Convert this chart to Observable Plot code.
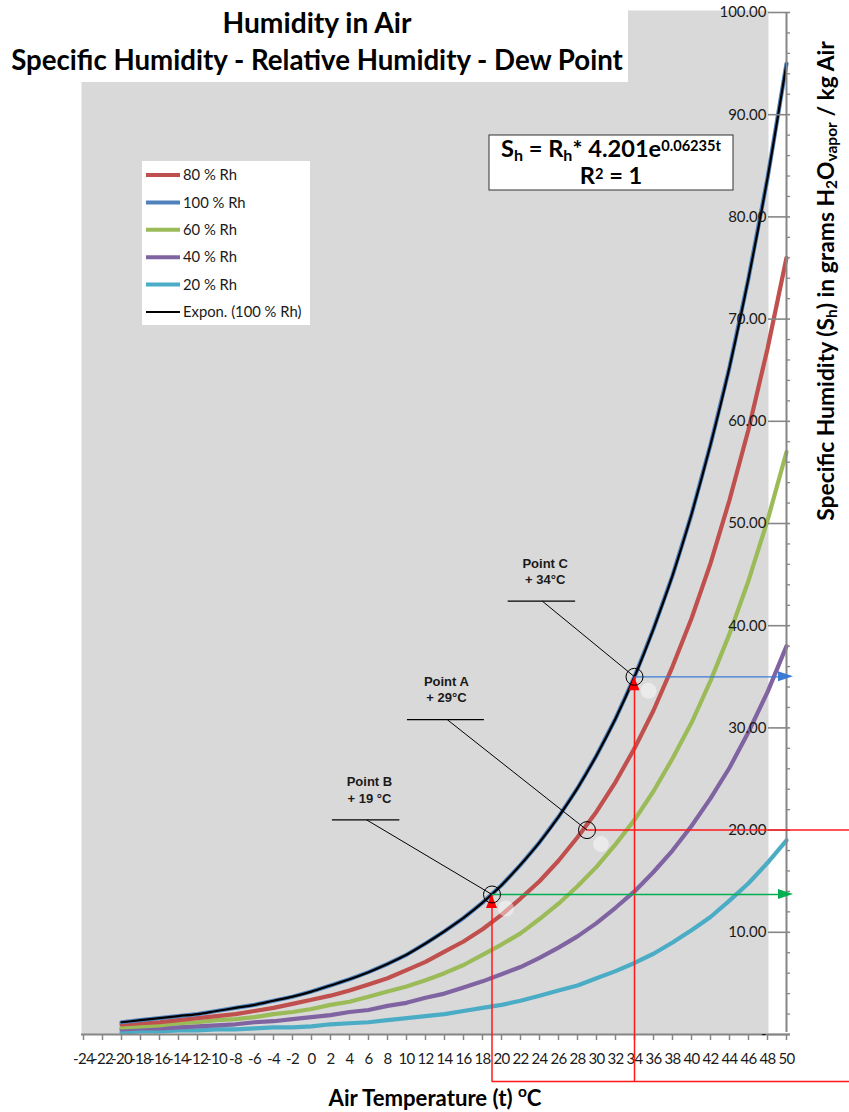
<!DOCTYPE html>
<html>
<head>
<meta charset="utf-8">
<script src="https://cdn.jsdelivr.net/npm/d3@7"></script>
<script src="https://cdn.jsdelivr.net/npm/@observablehq/plot@0.6"></script>
<style>
  html, body { margin: 0; padding: 0; background: #fff; }
  #chart { position: relative; width: 849px; height: 1112px; overflow: hidden; }
  #chart > svg { display: block; }
  #overlay { position: absolute; left: 0; top: 0; pointer-events: none; }
  #chart g[aria-label="x-axis tick label"] text { letter-spacing: -0.6px; }
</style>
</head>
<body>
<div id="chart"></div>
<script>
// Air temperature (°C) for every sample on the curves
const temps = [-20,-18,-16,-14,-12,-10,-8,-6,-4,-2,0,2,4,6,8,10,12,14,16,18,20,22,24,26,28,30,32,34,36,38,40,42,44,46,48,50];

// Specific humidity (g H2O / kg air) at each temperature, per relative humidity
const rh100 = [1.2,1.4,1.6,1.8,2.0,2.3,2.6,2.9,3.3,3.7,4.2,4.8,5.4,6.1,6.9,7.8,8.9,10.1,11.4,12.9,14.6,16.6,18.8,21.3,24.1,27.3,30.9,35.0,39.7,44.9,50.9,57.7,65.3,74.0,83.8,95.0];
const rh80  = [1.0,1.1,1.2,1.4,1.6,1.8,2.0,2.3,2.6,3.0,3.4,3.8,4.3,4.9,5.5,6.3,7.1,8.1,9.1,10.3,11.7,13.3,15.0,17.0,19.3,21.8,24.7,28.0,31.7,36.0,40.7,46.1,52.3,59.2,67.1,76.0];
const rh60  = [0.7,0.8,0.9,1.1,1.2,1.4,1.5,1.7,2.0,2.2,2.5,2.9,3.2,3.7,4.2,4.7,5.3,6.0,6.8,7.8,8.8,9.9,11.3,12.8,14.5,16.4,18.6,21.0,23.8,27.0,30.5,34.6,39.2,44.4,50.3,57.0];
const rh40  = [0.5,0.6,0.6,0.7,0.8,0.9,1.0,1.2,1.3,1.5,1.7,1.9,2.2,2.4,2.8,3.1,3.6,4.0,4.6,5.2,5.9,6.6,7.5,8.5,9.6,10.9,12.4,14.0,15.9,18.0,20.4,23.1,26.1,29.6,33.5,38.0];
const rh20  = [0.2,0.3,0.3,0.4,0.4,0.5,0.5,0.6,0.7,0.7,0.8,1.0,1.1,1.2,1.4,1.6,1.8,2.0,2.3,2.6,2.9,3.3,3.8,4.3,4.8,5.5,6.2,7.0,7.9,9.0,10.2,11.5,13.1,14.8,16.8,19.0];

// Series names in legend order, and the exponential trendline name
const seriesNames = ["80 % Rh", "100 % Rh", "60 % Rh", "40 % Rh", "20 % Rh"];
const trendName = "Expon. (100 % Rh)";

// Axis ticks
const xTicks = [-24,-22,-20,-18,-16,-14,-12,-10,-8,-6,-4,-2,0,2,4,6,8,10,12,14,16,18,20,22,24,26,28,30,32,34,36,38,40,42,44,46,48,50];
const yMajorTicks = [0,10,20,30,40,50,60,70,80,90,100];
const yMinorTicks = [2,4,6,8,12,14,16,18,22,24,26,28,32,34,36,38,42,44,46,48,52,54,56,58,62,64,66,68,72,74,76,78,82,84,86,88,92,94,96,98];

// Marked states on the chart
const pointNames = ["Point A", "Point B", "Point C"];
const pointCaptions = ["+ 29°C", "+ 19 °C", "+ 34°C"];
const pointTemps = [29, 19, 34];
const pointHumidity = [20.0, 13.7, 35.0];

// Texts
const titleLines = ["Humidity in Air", "Specific Humidity - Relative Humidity - Dew Point"];

// ---- styling / layout ----
const colors = {
  "80 % Rh": "#C0504D",
  "100 % Rh": "#4F81BD",
  "60 % Rh": "#9BBB59",
  "40 % Rh": "#8064A2",
  "20 % Rh": "#4BACC6"
};
const seriesValues = {"80 % Rh": rh80, "100 % Rh": rh100, "60 % Rh": rh60, "40 % Rh": rh40, "20 % Rh": rh20};
const drawOrder = ["20 % Rh", "40 % Rh", "60 % Rh", "80 % Rh", "100 % Rh"];
const xDomain = [-24, 50];
const guideFloor = -4.6;   // level of the red guide line below the temperature axis
const axisGray = "#868686";
const guideRed = "#ff1a1a";

const rows = drawOrder.flatMap(name => temps.map((t, i) => ({name, t, sh: seriesValues[name][i]})));
const trendRows = temps.map((t, i) => ({t, sh: rh100[i]}));
const points = pointNames.map((name, i) => ({name, caption: pointCaptions[i], t: pointTemps[i], sh: pointHumidity[i]}));
const [pA, pB, pC] = points;

// Callout placement (data units): label centre, underline and where the leader leaves it
const callouts = [
  {p: pA, tx: 14.2, ty: 33.8, ux1: 10.1, ux2: 18.2, uy: 30.8, ex: 14.3},
  {p: pB, tx: 6.1, ty: 24.0, ux1: 2.2, ux2: 9.3, uy: 21.0, ex: 5.8},
  {p: pC, tx: 24.6, ty: 45.4, ux1: 20.7, ux2: 27.8, uy: 42.4, ex: 24.3}
];

// Filled arrow heads drawn in screen space from scaled positions
function arrowHeads(index, {x, y}) {
  const g = d3.create("svg:g");
  const up = (p) => {
    const px = x(p.t), py = y(p.sh);
    g.append("path").attr("d", `M${px},${py}L${px - 5.5},${py + 14}L${px + 5.5},${py + 14}Z`).attr("fill", "#ff0000");
  };
  const right = (p, color) => {
    const px = x(xDomain[1]) + 7, py = y(p.sh);
    g.append("path").attr("d", `M${px},${py}L${px - 15},${py - 5}L${px - 15},${py + 5}Z`).attr("fill", color);
  };
  up(pB); up(pC);
  right(pB, "#00b050");
  right(pC, "#3a7bd5");
  return g.node();
}

const chart = Plot.plot({
  width: 849,
  height: 1112,
  marginLeft: 83,
  marginRight: 63,
  marginTop: 12,
  marginBottom: 78,
  style: {fontFamily: "Lato, sans-serif", background: "#fff", overflow: "visible"},
  x: {domain: xDomain},
  y: {domain: [0, 100], axis: null},
  color: {domain: seriesNames, range: seriesNames.map(n => colors[n])},
  marks: [
    // plot area
    Plot.frame({fill: "#d9d9d9", stroke: null, insetLeft: -2, insetRight: 18, insetTop: -2}),
    // humidity curves
    Plot.line(rows, {x: "t", y: "sh", z: "name", stroke: "name", strokeWidth: 4.2, strokeLinejoin: "round"}),
    Plot.line(trendRows, {x: "t", y: "sh", stroke: "#000", strokeWidth: 2.2, curve: "monotone-x"}),
    // temperature axis
    Plot.ruleY([0], {x1: xDomain[0], x2: xDomain[1], insetLeft: -2, insetRight: -4, stroke: axisGray, strokeWidth: 2}),
    Plot.axisX({ticks: xTicks, tickFormat: d => String(d), tickSize: 6, tickPadding: 13, fontSize: 15,
                stroke: axisGray, strokeWidth: 1.5, fill: "#1a1a1a", label: null}),
    // humidity axis on the right edge
    Plot.ruleX([xDomain[1]], {y1: 0, y2: 100, insetTop: -2, stroke: axisGray, strokeWidth: 2}),
    Plot.ruleY(yMajorTicks, {y: d => d, x1: () => xDomain[1], x2: () => xDomain[1], insetLeft: -18, insetRight: -4, stroke: axisGray, strokeWidth: 1.6}),
    Plot.ruleY(yMinorTicks, {y: d => d, x1: () => xDomain[1], x2: () => xDomain[1], insetRight: -4, stroke: axisGray, strokeWidth: 1.3}),
    Plot.text(yMajorTicks, {x: () => xDomain[1], y: d => d, text: d => d === 0 ? "-" : d.toFixed(2),
                dx: -20, textAnchor: "end", fontSize: 15, fill: "#1a1a1a"}),
    // red guides: temperature drops and the 20 g/kg level
    Plot.ruleX([pB, pC], {x: "t", y1: () => guideFloor, y2: "sh", stroke: guideRed, strokeWidth: 1.5}),
    Plot.ruleY([guideFloor], {x1: () => pB.t, x2: () => xDomain[1], insetRight: -70, stroke: guideRed, strokeWidth: 1.5}),
    Plot.ruleY([pA], {y: "sh", x1: "t", x2: () => xDomain[1], insetRight: -70, stroke: guideRed, strokeWidth: 1.5}),
    // read-out arrows to the humidity axis
    Plot.ruleY([pB], {y: "sh", x1: "t", x2: () => xDomain[1], insetRight: -2, stroke: "#00b050", strokeWidth: 1.5}),
    Plot.ruleY([pC], {y: "sh", x1: "t", x2: () => xDomain[1], insetRight: -2, stroke: "#3a7bd5", strokeWidth: 1.3}),
    arrowHeads,
    // point markers
    Plot.dot(points, {x: "t", y: "sh", r: 8, dx: 14, dy: 14, fill: "#fff", fillOpacity: 0.45}),
    Plot.dot(points, {x: "t", y: "sh", r: 8.5, stroke: "#000", strokeWidth: 1, fill: "none"}),
    // callouts
    Plot.ruleY(callouts, {y: "uy", x1: "ux1", x2: "ux2", stroke: "#000", strokeWidth: 1.3}),
    Plot.link(callouts, {x1: "ex", y1: "uy", x2: d => d.p.t, y2: d => d.p.sh, stroke: "#000", strokeWidth: 1}),
    Plot.text(callouts, {x: "tx", y: "ty", text: d => `${d.p.name}\n${d.p.caption}`, lineHeight: 1.25,
                fontFamily: "'Liberation Sans', Arial, sans-serif", fontWeight: "bold", fontSize: 13, fill: "#1a1a1a"})
  ]
});

const host = document.getElementById("chart");
host.appendChild(chart);

// ---- titles, legend, formula box and axis titles ----
const ov = d3.select(host).append("svg").attr("id", "overlay").attr("width", 849).attr("height", 1112)
  .attr("font-family", "Lato, sans-serif");

function fitWidth(sel, target) {
  const node = sel.node();
  const size = +sel.attr("font-size");
  const w = node.getComputedTextLength();
  if (w > 0) sel.attr("font-size", size * target / w);
}
const sub = (t, s) => t.append("tspan").attr("baseline-shift", "-0.22em").attr("font-size", "0.68em").text(s);
const sup = (t, s, shift = "0.42em", size = "0.62em") =>
  t.append("tspan").attr("baseline-shift", shift).attr("font-size", size).text(s);

// title block
ov.append("rect").attr("x", 0).attr("y", 0).attr("width", 628).attr("height", 82).attr("fill", "#fff");
const t1 = ov.append("text").attr("x", 317).attr("y", 33).attr("text-anchor", "middle")
  .attr("font-weight", 700).attr("font-size", 25).text(titleLines[0]);
const t2 = ov.append("text").attr("x", 317).attr("y", 70).attr("text-anchor", "middle")
  .attr("font-weight", 700).attr("font-size", 25).text(titleLines[1]);
fitWidth(t1, 189);
fitWidth(t2, 612);

// legend
const legendItems = seriesNames.map(n => ({name: n, color: colors[n], width: 4}))
  .concat([{name: trendName, color: "#000", width: 2.2}]);
const lg = ov.append("g");
lg.append("rect").attr("x", 142).attr("y", 161).attr("width", 168).attr("height", 164).attr("fill", "#fff");
legendItems.forEach((d, i) => {
  const cy = 175 + i * 27.4;
  lg.append("line").attr("x1", 146).attr("x2", 180).attr("y1", cy).attr("y2", cy)
    .attr("stroke", d.color).attr("stroke-width", d.width);
  lg.append("text").attr("x", 183).attr("y", cy).attr("dy", "0.35em").attr("font-size", 14.8)
    .attr("fill", "#1a1a1a").text(d.name);
});

// regression formula box
const fb = ov.append("g");
fb.append("rect").attr("x", 489).attr("y", 135).attr("width", 244).attr("height", 55)
  .attr("fill", "#fff").attr("stroke", "#333").attr("stroke-width", 1);
const f1 = fb.append("text").attr("x", 611).attr("y", 157).attr("text-anchor", "middle")
  .attr("font-weight", 700).attr("font-size", 19).attr("fill", "#000");
f1.append("tspan").text("S"); sub(f1, "h");
f1.append("tspan").text(" = R"); sub(f1, "h");
f1.append("tspan").text("* 4.201e"); sup(f1, "0.06235t");
fitWidth(f1, 220);
const f2 = fb.append("text").attr("x", 611).attr("y", 184).attr("text-anchor", "middle")
  .attr("font-weight", 700).attr("font-size", f1.attr("font-size")).attr("fill", "#000");
f2.append("tspan").text("R"); sup(f2, "2", "0.34em");
f2.append("tspan").text(" = 1");

// humidity axis title
const yl = ov.append("text").attr("transform", "translate(834,281) rotate(-90)").attr("text-anchor", "middle")
  .attr("font-weight", 700).attr("font-size", 19).attr("fill", "#000");
yl.append("tspan").text("Specific Humidity (S"); sub(yl, "h");
yl.append("tspan").text(") in grams H"); sub(yl, "2");
yl.append("tspan").text("O"); sub(yl, "vapor");
yl.append("tspan").text(" / kg Air");
fitWidth(yl, 480);

// temperature axis title
const xl = ov.append("text").attr("x", 435).attr("y", 1106).attr("text-anchor", "middle")
  .attr("font-weight", 700).attr("font-size", 20).attr("fill", "#000");
xl.append("tspan").text("Air Temperature (t) "); sup(xl, "o", "0.55em", "0.7em");
xl.append("tspan").text("C");
fitWidth(xl, 213);
</script>
</body>
</html>
